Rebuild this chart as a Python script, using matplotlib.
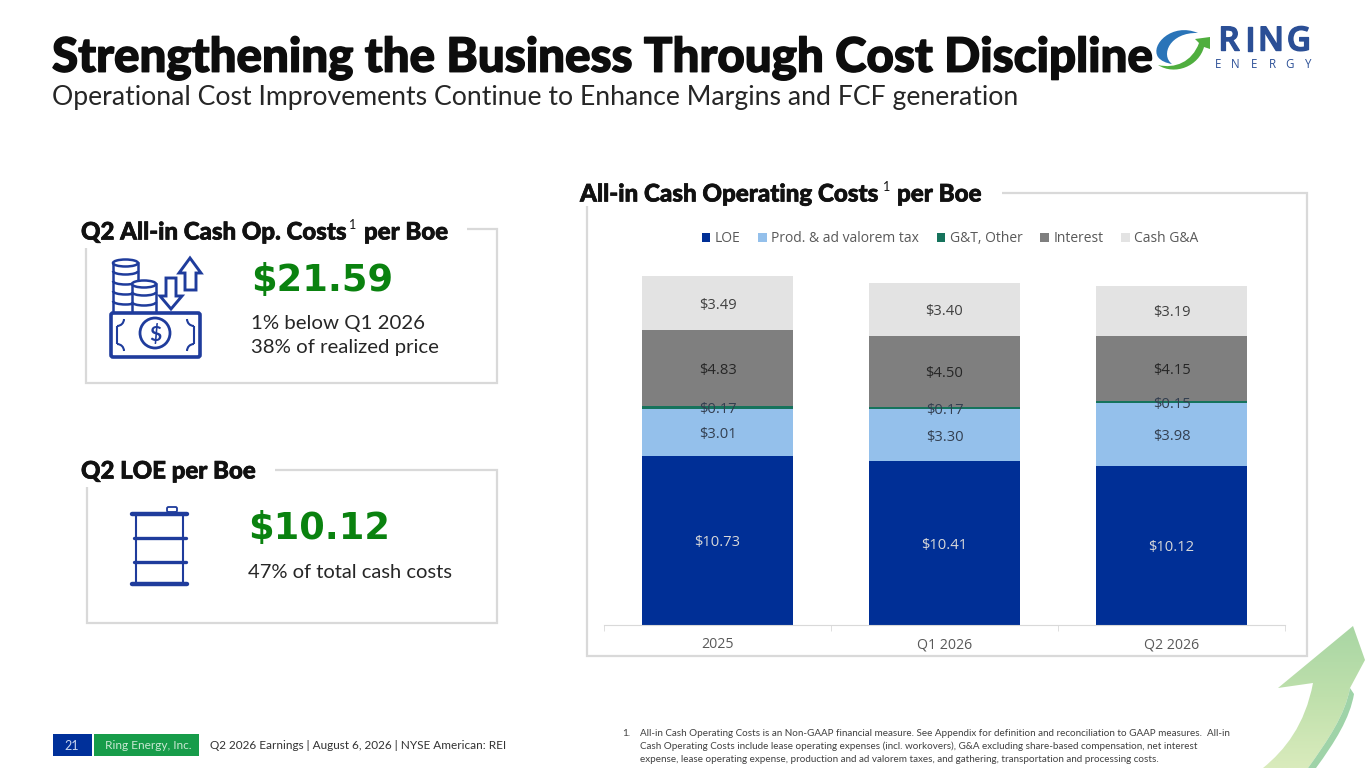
import matplotlib
matplotlib.use('Agg')
import matplotlib.pyplot as plt
import matplotlib.patheffects as pe
from matplotlib.patches import Rectangle, Circle, Polygon, PathPatch, FancyBboxPatch, Ellipse, Arc
from matplotlib.path import Path
import numpy as np

plt.rcParams['font.family'] = ['Lato', 'DejaVu Sans']

# chart data
periods = ['2025', 'Q1 2026', 'Q2 2026']
series_names = ['LOE', 'Prod. & ad valorem tax', 'G&T, Other', 'Interest', 'Cash G&A']
loe = [10.73, 10.41, 10.12]
prod_tax = [3.01, 3.30, 3.98]
gt_other = [0.17, 0.17, 0.15]
interest = [4.83, 4.50, 4.15]
cash_ga = [3.49, 3.40, 3.19]

colors = ['#002f96', '#94c0eb', '#16735c', '#7f7f7f', '#e3e3e3']
label_colors = ['#d9d9d9', '#333f50', '#333f50', '#262626', '#404040']

DARK = '#111111'
BLUE = '#1f3c9c'
GREEN = '#0a820f'
FRAME = '#d9d9d9'
LOGO = '#2b4f96'

fig = plt.figure(figsize=(13.65, 7.68), dpi=100)

# whole slide in pixel coords, for everything that isn't the chart
bg = fig.add_axes([0, 0, 1, 1])
bg.axis('off')


def line(xs, ys, color=FRAME, lw=1.6, **kw):
    bg.plot(xs, ys, color=color, lw=lw, solid_capstyle=kw.pop('cap', 'butt'),
            solid_joinstyle='miter', **kw)


def txt(x, y, s, size, color=DARK, weight='normal', thick=0, **kw):
    t = bg.text(x, y, s, fontsize=size, color=color, fontweight=weight,
                va=kw.pop('va', 'center'), ha=kw.pop('ha', 'left'), **kw)
    if thick:
        t.set_path_effects([pe.withStroke(linewidth=thick, foreground=color)])
    return t


# big arrow, bottom right, fading from the head down the shaft
grad = np.linspace(0, 1, 64).reshape(-1, 1)
cmap = matplotlib.colors.LinearSegmentedColormap.from_list('arrow', ['#a9d6a4', '#bfe0ac', '#d9ebbc'])
img = bg.imshow(grad, extent=(1250, 1365, 768, 626), aspect='auto', cmap=cmap, zorder=1)
arrow_path = Path([(1353, 626), (1278, 688), (1313, 683),
                   (1305, 725), (1285, 750), (1263, 768), (1308, 768),
                   (1328, 740), (1345, 715), (1350, 688), (1365, 660), (1353, 626)],
                  [Path.MOVETO, Path.LINETO, Path.LINETO,
                   Path.CURVE4, Path.CURVE4, Path.CURVE4, Path.LINETO,
                   Path.CURVE4, Path.CURVE4, Path.CURVE4, Path.LINETO, Path.LINETO])
arrow_patch = PathPatch(arrow_path, fc='none', ec='none', transform=bg.transData)
bg.add_patch(arrow_patch)
img.set_clip_path(arrow_patch)
shade = Path([(1350, 688), (1345, 715), (1328, 740), (1308, 768), (1316, 768),
              (1335, 742), (1350, 718), (1354, 694), (1350, 688)],
             [Path.MOVETO, Path.CURVE4, Path.CURVE4, Path.CURVE4, Path.LINETO,
              Path.CURVE4, Path.CURVE4, Path.CURVE4, Path.LINETO])
bg.add_patch(PathPatch(shade, fc='#9fd3a8', ec='none', zorder=2))

bg.set_xlim(0, 1365)
bg.set_ylim(768, 0)

# title
txt(52, 58, 'Strengthening the Business Through Cost Discipline', 34.2, color='#0d0d0d', weight='black', thick=1.0)
txt(52, 98, 'Operational Cost Improvements Continue to Enhance Margins and FCF generation', 19.2, color='#262626')

# logo
swoosh = Path([(1198, 33), (1172, 22), (1150, 45), (1158, 57), (1161, 61), (1166, 63), (1172, 64),
               (1160, 55), (1170, 32), (1198, 33)],
              [Path.MOVETO, Path.CURVE4, Path.CURVE4, Path.CURVE4, Path.CURVE4, Path.CURVE4, Path.CURVE4,
               Path.CURVE4, Path.CURVE4, Path.CURVE4])
bg.add_patch(PathPatch(swoosh, fc='#2a74b8', ec='none'))
green_arc = Path([(1158, 65), (1175, 76), (1199, 66), (1204, 47), (1210, 49), (1210, 37),
                  (1195, 39), (1199, 43), (1192, 62), (1175, 69), (1158, 65)],
                 [Path.MOVETO, Path.CURVE4, Path.CURVE4, Path.CURVE4, Path.LINETO, Path.LINETO,
                  Path.LINETO, Path.LINETO, Path.CURVE4, Path.CURVE4, Path.CURVE4])
bg.add_patch(PathPatch(green_arc, fc='#4fae3e', ec='none'))
for ch, cx in zip('RING', [1229, 1250, 1271, 1299]):
    txt(cx, 42, ch, 24, color=LOGO, weight='semibold', family='Open Sans', ha='center',
        thick=1.0)
for ch, cx in zip('ENERGY', [1218, 1235, 1254, 1272, 1290, 1308]):
    txt(cx, 65, ch, 8.3, color=LOGO, family='Open Sans', ha='center')

# left panels
line([467, 497, 497, 86, 86], [229, 229, 383, 383, 248])
line([275, 497, 497, 87, 87], [470, 470, 623, 623, 487])
txt(81, 232, 'Q2 All-in Cash Op. Costs', 17.3, weight='black', thick=0.5)
txt(349, 225, '1', 9)
txt(364, 232, 'per Boe', 17.3, weight='black', thick=0.5)
txt(81, 471, 'Q2 LOE per Boe', 17.3, weight='black', thick=0.5)

txt(251, 280, '$21.59', 26.5, color=GREEN, weight='bold', family='DejaVu Sans')
txt(251, 324, '1% below Q1 2026', 14.7, color='#262626')
txt(251, 348, '38% of realized price', 14.7, color='#262626')
txt(248, 528, '$10.12', 26.5, color=GREEN, weight='bold', family='DejaVu Sans')
txt(248, 573, '47% of total cash costs', 14.5, color='#262626')

# money icon
for left, right, top in [(113, 138, 263), (132, 156, 284)]:
    mid = (left + right) / 2
    bg.add_patch(Rectangle((left, top), right - left, 313 - top, fc='white', ec=BLUE, lw=1.8))
    for yy in np.arange(top + 10, 312, 10):
        bg.add_patch(Arc((mid, yy - 2), right - left, 7, theta1=0, theta2=180, ec=BLUE, lw=1.8))
    bg.add_patch(Ellipse((mid, top), right - left, 7, fc='white', ec=BLUE, lw=1.8))
bg.add_patch(FancyBboxPatch((111, 313), 89, 44, boxstyle='round,pad=0,rounding_size=2',
                            fc='white', ec=BLUE, lw=2.6))
bg.add_patch(Circle((155, 333), 15, fc='white', ec=BLUE, lw=2))
txt(155, 334, '$', 15, color=BLUE, weight='bold', ha='center')
# note corners, y axis is flipped so the angles run clockwise on screen
for cx, cy, t1, t2 in [(117, 319, 0, 90), (194, 319, 90, 180), (194, 351, 180, 270), (117, 351, 270, 360)]:
    bg.add_patch(Arc((cx, cy), 14, 14, theta1=t1, theta2=t2, ec=BLUE, lw=1.5))
for xx in [117, 194]:
    line([xx, xx], [326, 344], color=BLUE, lw=1.5)
bg.add_patch(Polygon([(190, 258), (201, 273), (196, 273), (196, 290), (185, 290), (185, 273), (179, 273)],
                     closed=True, fc='white', ec=BLUE, lw=2.1))
bg.add_patch(Polygon([(171, 309), (160, 296), (166, 296), (166, 278), (176, 278), (176, 296), (182, 296)],
                     closed=True, fc='white', ec=BLUE, lw=2.1))

# barrel icon
line([136, 136], [514, 584], color=BLUE, lw=1.5)
line([183, 183], [514, 584], color=BLUE, lw=1.5)
bg.add_patch(FancyBboxPatch((167, 507), 10, 5, boxstyle='round,pad=0,rounding_size=1.5',
                            fc='white', ec=BLUE, lw=1.3))
for yy, x0, x1, w in [(514, 132, 187, 3.2), (538, 134, 186, 2.4), (562, 134, 186, 2.4), (584, 132, 187, 3.2)]:
    line([x0, x1], [yy, yy], color=BLUE, lw=w, cap='round')

# chart panel
line([1002, 1307, 1307, 587, 587], [193, 193, 656, 656, 206])
txt(580, 194, 'All-in Cash Operating Costs', 17.4, weight='black', thick=0.5)
txt(883, 187, '1', 9)
txt(897, 194, 'per Boe', 17.4, weight='black', thick=0.5)

# footer
bg.add_patch(Rectangle((53, 734), 39, 22, fc='#00309a', ec='none'))
bg.add_patch(Rectangle((94, 734), 105, 22, fc='#179c4a', ec='none'))
txt(72, 745.5, '21', 9, color='#c9d6f0', ha='center')
txt(148.5, 745.5, 'Ring Energy, Inc.', 8.6, color='#c8e8d2', ha='center')
txt(210, 745.5, 'Q2 2026 Earnings | August 6, 2026 | NYSE American: REI', 8.45, color='#333333')

txt(622, 733, '1.', 7.1, color='#404040')
txt(640, 733, 'All-in Cash Operating Costs is an Non-GAAP financial measure. See Appendix for definition and reconciliation to GAAP measures.  All-in', 7.13, color='#404040')
txt(640, 746, 'Cash Operating Costs include lease operating expenses (incl. workovers), G&A excluding share-based compensation, net interest', 7.13, color='#404040')
txt(640, 759, 'expense, lease operating expense, production and ad valorem taxes, and gathering, transportation and processing costs.', 7.13, color='#404040')

# stacked bars
ax = fig.add_axes([604 / 1365, (768 - 625) / 768, 681 / 1365, 393 / 768])
ax.patch.set_alpha(0)
ax.set_xlim(-0.5, 2.5)
ax.set_ylim(0, 25)

x = np.arange(len(periods))
bottom = np.zeros(len(periods))
all_series = [loe, prod_tax, gt_other, interest, cash_ga]
for vals, name, col, lcol in zip(all_series, series_names, colors, label_colors):
    ax.bar(x, vals, width=0.667, bottom=bottom, color=col, label=name)
    for xi, v, b in zip(x, vals, bottom):
        ax.annotate(f'${v:.2f}', (xi, b + v / 2), xytext=(0, -1.5), textcoords='offset points',
                    ha='center', va='center', fontsize=10.6, color=lcol,
                    family=['Open Sans', 'DejaVu Sans'])
    bottom = bottom + np.array(vals)

for side in ['top', 'left', 'right']:
    ax.spines[side].set_visible(False)
ax.spines['bottom'].set_color('#d9d9d9')
ax.set_yticks([])
ax.set_xticks(x)
ax.set_xticklabels(periods, fontsize=10.2, color='#595959', family=['Open Sans', 'DejaVu Sans'])
ax.set_xticks([-0.5, 0.5, 1.5, 2.5], minor=True)
ax.tick_params(axis='x', which='major', length=0, pad=9)
ax.tick_params(axis='x', which='minor', length=4, color='#d9d9d9')

leg = ax.legend(loc='center', bbox_to_anchor=((950 - 604) / 681, (625 - 239) / 393), ncol=5, frameon=False,
                handlelength=0.62, handleheight=0.62, handletextpad=0.3, columnspacing=1.3,
                prop={'size': 10, 'family': ['Open Sans', 'DejaVu Sans']}, labelcolor='#595959')

fig.savefig('out.png', dpi=100)
